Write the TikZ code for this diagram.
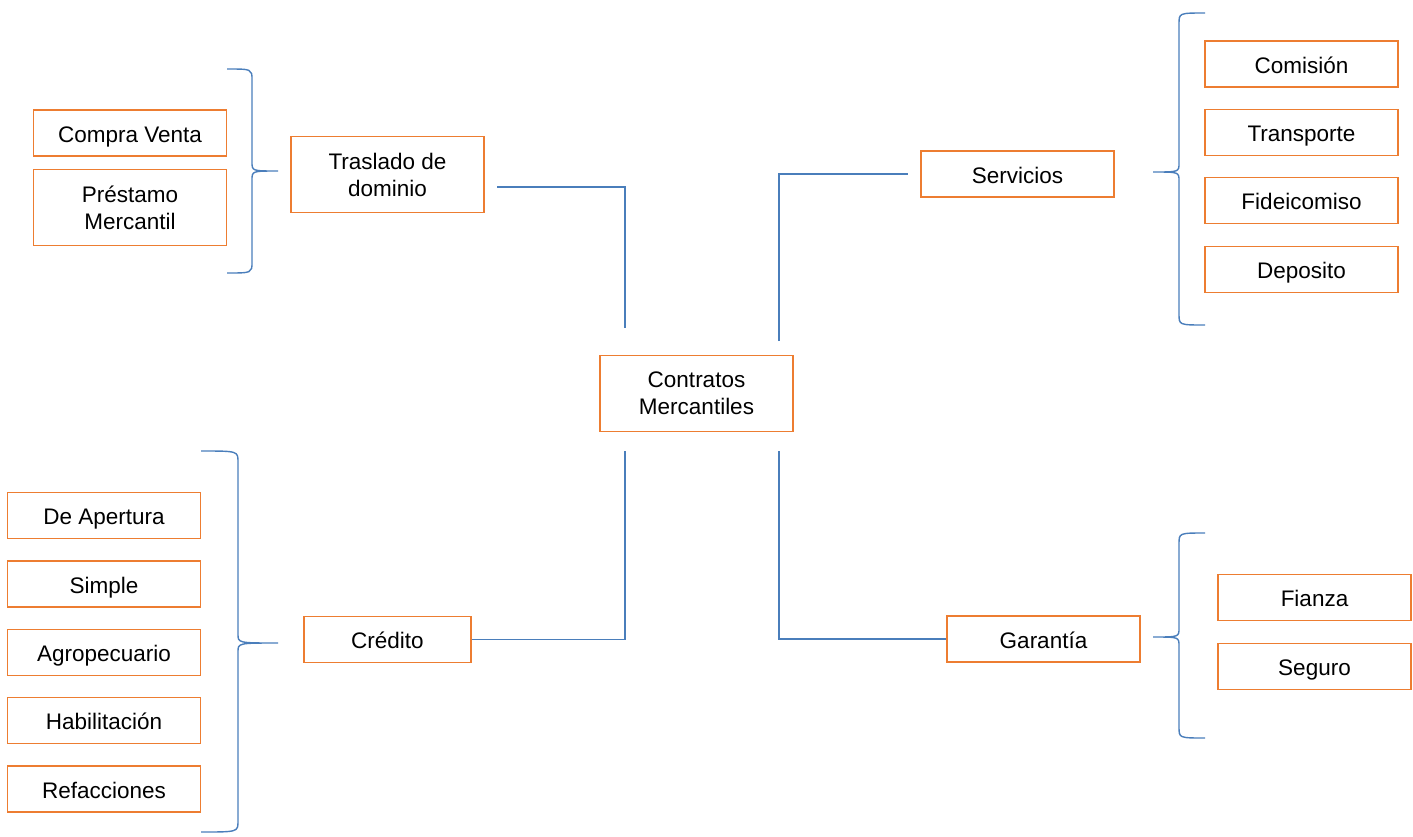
\documentclass[tikz,border=0pt]{standalone}
\usepackage{fontspec}
\setmainfont{Liberation Sans}
\definecolor{boxorange}{HTML}{ED7D31}
\definecolor{lineblue}{HTML}{4A7EBB}
\begin{document}
\begin{tikzpicture}[x=1pt,y=1pt,
  cbox/.style={draw=boxorange, line width=1.8pt, minimum width=193pt, minimum height=46pt,
    inner sep=0pt, align=center, font=\fontsize{22.5}{27}\selectfont},
  one/.style={text height=18pt, text depth=0pt},
  tall/.style={minimum height=76pt},
  conn/.style={draw=lineblue, line width=1.4pt},
  brace/.style={draw=lineblue, line width=1.4pt}]
\useasboundingbox (0,0) rectangle (1413,-836);
% nodes
\node[cbox,one] (compra) at (130,-133) {Compra Venta};
\node[cbox,tall] (prestamo) at (130,-207.5) {Préstamo\\Mercantil};
\node[cbox,tall] (traslado) at (387.5,-174.5) {Traslado de\\dominio};
\node[cbox,tall] (contratos) at (696.5,-393.5) {Contratos\\Mercantiles};
\node[cbox,one] (servicios) at (1017.5,-174) {Servicios};
\node[cbox,one] (comision) at (1301.5,-64) {Comisión};
\node[cbox,one] (transporte) at (1301.5,-132.5) {Transporte};
\node[cbox,one] (fideicomiso) at (1301.5,-200.5) {Fideicomiso};
\node[cbox,one] (deposito) at (1301.5,-269.5) {Deposito};
\node[cbox,one,minimum width=167pt] (credito) at (387.5,-639.5) {Crédito};
\node[cbox,one] (apertura) at (104,-515.5) {De Apertura};
\node[cbox,one] (simple) at (104,-584) {Simple};
\node[cbox,one] (agro) at (104,-652.5) {Agropecuario};
\node[cbox,one] (habil) at (104,-720.5) {Habilitación};
\node[cbox,one] (refacc) at (104,-789) {Refacciones};
\node[cbox,one] (garantia) at (1043.5,-639) {Garantía};
\node[cbox,one] (fianza) at (1314.5,-597.5) {Fianza};
\node[cbox,one] (seguro) at (1314.5,-666.5) {Seguro};
% connector ends
\coordinate (trE) at (497,-187);
\coordinate (ctTL) at (625,-328);
\coordinate (ctTR) at (779,-341);
\coordinate (svW) at (908,-174);
\coordinate (ctBL) at (625,-451);
\coordinate (ctBR) at (779,-451);
% connectors
\draw[conn] (trE) -| (ctTL);
\draw[conn] (ctTR) |- (svW);
\draw[conn] (credito.east) -| (ctBL);
\draw[conn] (ctBR) |- (garantia.west);
% braces: right-pointing
\draw[brace] (227,-69) .. controls (252,-69) .. (252,-80) -- (252,-162) .. controls (252,-171) .. (278,-171)
  .. controls (252,-171) .. (252,-180) -- (252,-262) .. controls (252,-273) .. (227,-273);
\draw[brace] (201,-451) .. controls (238,-451) .. (238,-462) -- (238,-634) .. controls (238,-643) .. (278,-643)
  .. controls (238,-643) .. (238,-652) -- (238,-821) .. controls (238,-832) .. (201,-832);
% braces: left-pointing
\draw[brace] (1205,-13) .. controls (1179,-13) .. (1179,-24) -- (1179,-163) .. controls (1179,-172) .. (1153,-172)
  .. controls (1179,-172) .. (1179,-181) -- (1179,-314) .. controls (1179,-325) .. (1205,-325);
\draw[brace] (1205,-533) .. controls (1179,-533) .. (1179,-544) -- (1179,-628) .. controls (1179,-637) .. (1153,-637)
  .. controls (1179,-637) .. (1179,-646) -- (1179,-727) .. controls (1179,-738) .. (1205,-738);
\end{tikzpicture}
\end{document}
